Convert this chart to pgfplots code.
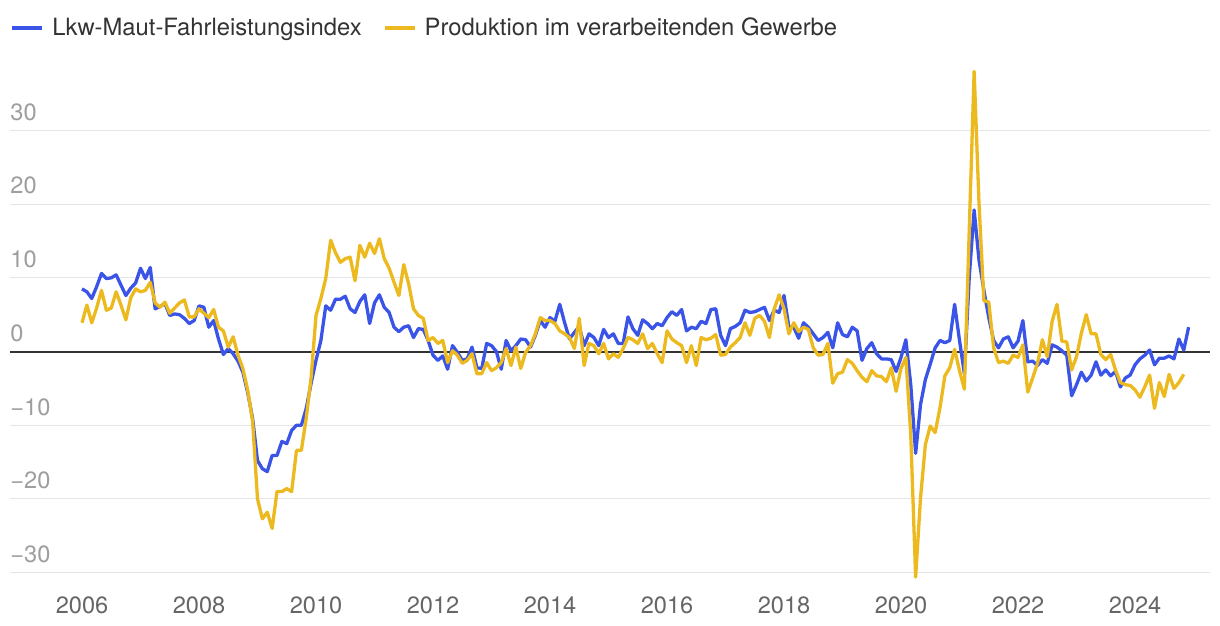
\documentclass[border=0pt]{standalone}
\usepackage{pgfplots}
\pgfplotsset{compat=1.18}
\usepackage{pgfplotstable}
\usepackage{fontspec}
\setmainfont{TeX Gyre Heros}
\definecolor{lkw}{RGB}{58,84,232}
\definecolor{prod}{RGB}{236,185,30}
\definecolor{zeroline}{RGB}{51,51,51}
\pgfplotstableread{
m lkw prod
0 8.5 3.9
1 8.1 6.3
2 7.2 3.9
3 8.8 5.9
4 10.6 8.3
5 9.9 5.6
6 10.0 5.9
7 10.4 8.1
8 9.0 6.3
9 7.6 4.3
10 8.6 7.3
11 9.3 8.5
12 11.3 8.1
13 9.9 8.3
14 11.4 9.4
15 5.8 6.6
16 6.1 6.0
17 6.5 6.7
18 4.9 5.2
19 5.1 5.9
20 5.0 6.6
21 4.5 7.0
22 3.8 4.7
23 4.2 4.7
24 6.2 5.8
25 6.0 5.2
26 3.3 4.6
27 4.2 5.7
28 1.7 3.3
29 -0.4 2.8
30 0.4 0.6
31 -0.3 2.0
32 -1.3 -0.5
33 -2.8 -2.3
34 -5.6 -5.3
35 -9.1 -9.5
36 -14.8 -20.0
37 -15.9 -22.7
38 -16.3 -21.8
39 -14.1 -24.0
40 -14.1 -19.0
41 -12.2 -19.0
42 -12.5 -18.6
43 -10.7 -19.0
44 -10.0 -13.4
45 -10.0 -13.4
46 -7.7 -9.0
47 -4.3 -3.5
48 -1.2 4.9
49 1.5 7.2
50 6.2 9.9
51 5.6 15.1
52 7.1 13.4
53 7.1 12.1
54 7.5 12.6
55 5.8 12.8
56 5.3 9.6
57 6.8 14.4
58 7.7 12.8
59 3.8 14.7
60 6.6 13.3
61 7.7 15.3
62 6.0 12.6
63 5.3 11.3
64 3.3 9.4
65 2.7 7.6
66 3.3 11.8
67 3.5 9.2
68 1.9 5.8
69 3.1 4.9
70 3.0 4.5
71 1.5 1.5
72 -0.5 1.9
73 -1.2 1.1
74 -0.6 1.5
75 -2.4 -1.5
76 0.8 0.1
77 -0.1 -0.5
78 -1.2 -1.6
79 -1.0 -1.2
80 0.6 -0.3
81 -2.2 -3.0
82 -2.3 -3.0
83 1.1 -1.5
84 0.8 -2.6
85 0.0 -2.2
86 -2.4 -1.5
87 1.5 0.4
88 0.1 -1.9
89 0.8 0.6
90 1.7 -2.3
91 1.6 -0.1
92 0.6 0.8
93 2.2 2.4
94 4.2 4.6
95 3.3 4.2
96 4.6 4.2
97 4.1 3.8
98 6.4 2.8
99 3.9 2.4
100 1.7 1.9
101 2.6 0.4
102 3.4 4.5
103 0.8 -1.9
104 2.4 1.1
105 1.9 0.8
106 0.8 -0.3
107 3.0 1.1
108 1.9 -1.0
109 2.4 -0.3
110 1.1 -0.8
111 1.1 0.4
112 4.7 1.9
113 3.1 1.6
114 2.2 1.1
115 4.3 2.4
116 3.8 0.4
117 3.1 1.1
118 3.8 -0.3
119 3.5 -1.5
120 4.6 2.8
121 5.4 1.7
122 4.9 1.2
123 5.7 0.8
124 2.8 -1.5
125 3.3 0.8
126 3.1 -1.9
127 4.1 1.9
128 3.8 1.6
129 5.7 1.8
130 5.8 2.3
131 2.2 -0.5
132 0.8 -0.4
133 3.1 0.6
134 3.4 1.2
135 3.9 1.9
136 5.6 3.9
137 5.3 2.2
138 5.4 4.5
139 5.7 4.9
140 6.0 4.1
141 4.2 1.9
142 5.6 5.8
143 5.3 7.7
144 7.6 5.8
145 3.3 2.4
146 3.3 3.9
147 1.8 2.7
148 3.9 3.3
149 3.3 3.0
150 2.4 0.5
151 1.5 -0.5
152 1.9 -0.4
153 2.6 1.1
154 0.5 -4.3
155 3.9 -3.0
156 2.3 -2.8
157 2.0 -1.1
158 3.3 -1.6
159 2.8 -2.6
160 -1.2 -3.5
161 0.4 -4.1
162 1.2 -2.6
163 -0.3 -3.3
164 -1.0 -3.4
165 -1.0 -4.1
166 -1.1 -2.2
167 -2.7 -5.4
168 -0.8 -2.3
169 1.6 -0.8
170 -4.5 -11.3
171 -13.8 -30.6
172 -7.2 -19.9
173 -3.8 -12.6
174 -1.7 -10.1
175 0.5 -11.0
176 1.5 -7.6
177 1.2 -3.3
178 1.5 -2.2
179 6.4 0.3
180 1.5 -2.6
181 -3.0 -5.1
182 10.1 16.5
183 19.2 38.0
184 12.4 20.1
185 8.3 6.9
186 4.6 6.7
187 1.5 0.5
188 0.5 -1.5
189 1.7 -1.3
190 2.0 -1.6
191 0.5 -0.5
192 1.4 -0.8
193 4.2 0.9
194 -1.4 -5.5
195 -1.3 -3.6
196 -1.9 -1.6
197 -1.1 1.6
198 -1.6 -0.7
199 0.9 4.1
200 0.6 6.4
201 0.1 1.4
202 -0.5 1.3
203 -6.0 -2.5
204 -4.5 -0.7
205 -2.8 2.5
206 -4.0 5.0
207 -3.2 2.4
208 -1.4 2.4
209 -3.2 -0.4
210 -2.5 -1.1
211 -3.3 -0.4
212 -2.7 -2.5
213 -4.8 -4.2
214 -3.6 -4.5
215 -3.2 -4.6
216 -1.8 -5.2
217 -1.0 -6.2
218 -0.5 -4.8
219 0.2 -3.2
220 -1.8 -7.7
221 -0.9 -4.2
222 -0.9 -6.1
223 -0.6 -3.1
224 -1.0 -5.0
225 1.7 -4.2
226 0.2 -3.1
227 3.3 nan
}\datatable

\newcommand{\chartfont}{\fontsize{11.8}{14}\selectfont}
\newcommand{\legendfont}{\fontsize{11.9}{14}\selectfont}

\begin{document}
\begin{tikzpicture}
\begin{axis}[
  scale only axis,
  width=600pt, height=259.8pt,
  xmin=2004.769, xmax=2025.282,
  ymin=-31.5, ymax=39,
  axis line style={draw=none},
  tick style={draw=none},
  major tick length=0pt,
  xtick={2006,2008,2010,2012,2014,2016,2018,2020,2022,2024},
  xticklabels={2006,2008,2010,2012,2014,2016,2018,2020,2022,2024},
  ytick={-30,-20,-10,0,10,20,30},
  yticklabels={−30,−20,−10,0,10,20,30},
  ymajorgrids,
  grid style={line width=0.5pt, color=black!10},
  xticklabel style={font=\chartfont, text=black!60, anchor=base, inner sep=0pt, yshift=-14.8pt},
  yticklabel style={font=\chartfont, text=black!38, anchor=south west, inner sep=0pt, yshift=4.7pt},
  legend columns=2,
  legend style={draw=none, fill=none, at={(0,1)}, anchor=west, yshift=18pt,
    inner sep=0pt, font=\legendfont, text=black!80,
    nodes={inner sep=0pt},
    /tikz/every odd column/.style={column sep=4pt},
    /tikz/every even column/.style={column sep=10.5pt}},
  legend image code/.code={\draw[line width=2pt] (0pt,0pt) -- (15pt,0pt);},
  clip=false,
]
\addplot[zeroline, line width=1pt, forget plot] coordinates {(2004.769,0) (2025.282,0)};
\addplot[lkw, line width=1.65pt, line join=round] table[x expr=2006+\thisrow{m}/12, y=lkw] {\datatable};
\addlegendentry{Lkw-Maut-Fahrleistungsindex}
\addplot[prod, line width=1.65pt, line join=round] table[x expr=2006+\thisrow{m}/12, y=prod] {\datatable};
\addlegendentry{Produktion im verarbeitenden Gewerbe}
\end{axis}
\pgfresetboundingbox
\path[use as bounding box] (-5pt,-21.15pt) rectangle (605pt,291.85pt);
\end{tikzpicture}
\end{document}
